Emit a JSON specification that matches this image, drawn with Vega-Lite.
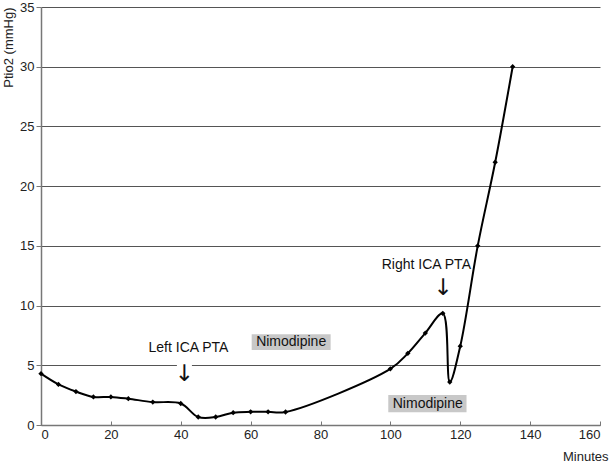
{
  "$schema": "https://vega.github.io/schema/vega-lite/v6.json",
  "width": 559,
  "height": 418,
  "autosize": {"type": "none"},
  "padding": {"left": 41, "top": 7, "right": 12, "bottom": 38},
  "background": "white",
  "config": {
    "view": {"stroke": null},
    "font": "Liberation Sans",
    "axis": {"labelFont": "Liberation Sans", "titleFont": "Liberation Sans", "labelColor": "#222", "titleColor": "#222", "titleFontWeight": "normal", "labelFontSize": 13, "titleFontSize": 13}
  },
  "datasets": {
    "series": [
      {"minutes": 0, "ptio2": 4.3},
      {"minutes": 5, "ptio2": 3.4},
      {"minutes": 10, "ptio2": 2.8},
      {"minutes": 15, "ptio2": 2.35},
      {"minutes": 20, "ptio2": 2.35},
      {"minutes": 25, "ptio2": 2.2},
      {"minutes": 32, "ptio2": 1.92},
      {"minutes": 40, "ptio2": 1.8},
      {"minutes": 45, "ptio2": 0.67},
      {"minutes": 50, "ptio2": 0.67},
      {"minutes": 55, "ptio2": 1.03},
      {"minutes": 60, "ptio2": 1.1},
      {"minutes": 65, "ptio2": 1.1},
      {"minutes": 70, "ptio2": 1.09},
      {"minutes": 100, "ptio2": 4.7},
      {"minutes": 105, "ptio2": 6.0},
      {"minutes": 110, "ptio2": 7.7},
      {"minutes": 115, "ptio2": 9.35},
      {"minutes": 117, "ptio2": 3.6},
      {"minutes": 120, "ptio2": 6.6},
      {"minutes": 125, "ptio2": 15.0},
      {"minutes": 130, "ptio2": 22.0},
      {"minutes": 135, "ptio2": 30.0}
    ],
    "boxes": [
      {"x1": 60.3, "x2": 82.9, "y1": 6.28, "y2": 7.6, "fill": "#c8c8c8"},
      {"x1": 99.4, "x2": 121.8, "y1": 1.06, "y2": 2.51, "fill": "#c8c8c8"},
      {"x1": 38.9, "x2": 43.2, "y1": 4.85, "y2": 5.15, "fill": "white"}
    ],
    "notes": [
      {"x": 42.2, "y": 6.47, "label": "Left ICA PTA"},
      {"x": 71.6, "y": 6.95, "label": "Nimodipine"},
      {"x": 110.7, "y": 1.78, "label": "Nimodipine"},
      {"x": 110.3, "y": 13.4, "label": "Right ICA PTA"}
    ],
    "arrows": [
      {"x": 41.0, "y": 4.27, "label": "↓"},
      {"x": 115.0, "y": 11.45, "label": "↓"}
    ]
  },
  "layer": [
    {
      "data": {"name": "boxes"},
      "mark": {"type": "rect"},
      "encoding": {
        "x": {"field": "x1", "type": "quantitative", "scale": {"domain": [0, 160]},
          "axis": {"values": [0, 20, 40, 60, 80, 100, 120, 140, 160], "title": "Minutes", "grid": false, "domainColor": "#777", "domainWidth": 1.5, "tickColor": "#777", "tickSize": -4, "labelPadding": 7, "titleAnchor": "end", "titleAlign": "right", "titleX": 567, "titleY": 35, "titleBaseline": "alphabetic"}},
        "x2": {"field": "x2"},
        "y": {"field": "y1", "type": "quantitative", "scale": {"domain": [0, 35]},
          "axis": {"values": [0, 5, 10, 15, 20, 25, 30, 35], "title": "Ptio2 (mmHg)", "grid": true, "gridColor": "#555", "gridWidth": 1, "domainColor": "#777", "domainWidth": 1.5, "tickColor": "#777", "tickSize": 5, "labelPadding": 2, "titleX": -33, "titleY": 0, "titleAngle": -90, "titleAlign": "right", "titleBaseline": "middle"}},
        "y2": {"field": "y2"},
        "color": {"field": "fill", "type": "nominal", "scale": null}
      }
    },
    {
      "data": {"name": "series"},
      "mark": {"type": "line", "interpolate": "catmull-rom", "color": "black", "strokeWidth": 2},
      "encoding": {
        "x": {"field": "minutes", "type": "quantitative"},
        "y": {"field": "ptio2", "type": "quantitative"}
      }
    },
    {
      "data": {"name": "series"},
      "mark": {"type": "point", "shape": "diamond", "filled": true, "color": "black", "size": 28, "opacity": 1},
      "encoding": {
        "x": {"field": "minutes", "type": "quantitative"},
        "y": {"field": "ptio2", "type": "quantitative"}
      }
    },
    {
      "data": {"name": "notes"},
      "mark": {"type": "text", "color": "#111", "font": "Liberation Sans", "fontSize": 14, "baseline": "middle", "align": "center"},
      "encoding": {
        "x": {"field": "x", "type": "quantitative"},
        "y": {"field": "y", "type": "quantitative"},
        "text": {"field": "label"}
      }
    },
    {
      "data": {"name": "arrows"},
      "mark": {"type": "text", "color": "#111", "font": "DejaVu Sans", "fontSize": 23, "baseline": "middle", "align": "center"},
      "encoding": {
        "x": {"field": "x", "type": "quantitative"},
        "y": {"field": "y", "type": "quantitative"},
        "text": {"field": "label"}
      }
    }
  ]
}
